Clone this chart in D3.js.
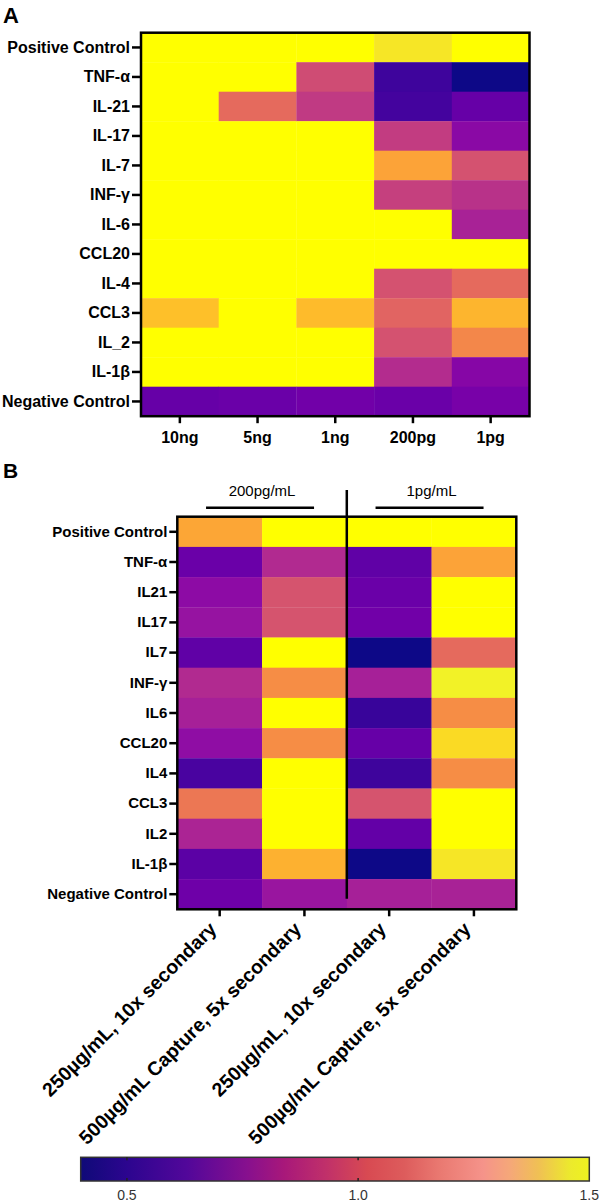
<!DOCTYPE html>
<html>
<head>
<meta charset="utf-8">
<script src="https://cdn.jsdelivr.net/npm/d3@7"></script>
<style>
	body { margin: 0; background: #fff; }
	svg { display: block; }
	text { font-family: "Liberation Sans", Arial, sans-serif; }
	.axis text { font-weight: bold; fill: #000; }
	.axis line { stroke: #000; stroke-width: 2.5px; }
</style>
</head>
<body>
<div id="chart"></div>
<script>

// panel A data, values above 1.5 are drawn as the over-range yellow
var rowsA = ["Positive Control", "TNF-α", "IL-21", "IL-17", "IL-7", "INF-γ", "IL-6",
	"CCL20", "IL-4", "CCL3", "IL_2", "IL-1β", "Negative Control"];
var colsA = ["10ng", "5ng", "1ng", "200pg", "1pg"];
var valuesA = [
	[1.6, 1.6, 1.6, 1.45, 1.6],
	[1.6, 1.6, 0.97, 0.50, 0.40],
	[1.6, 1.08, 0.90, 0.52, 0.61],
	[1.6, 1.6, 1.6, 0.91, 0.71],
	[1.6, 1.6, 1.6, 1.27, 0.99],
	[1.6, 1.6, 1.6, 0.92, 0.87],
	[1.6, 1.6, 1.6, 1.6, 0.81],
	[1.6, 1.6, 1.6, 1.6, 1.6],
	[1.6, 1.6, 1.6, 0.99, 1.08],
	[1.35, 1.6, 1.34, 1.06, 1.32],
	[1.6, 1.6, 1.6, 0.99, 1.18],
	[1.6, 1.6, 1.6, 0.85, 0.70],
	[0.61, 0.62, 0.64, 0.62, 0.66]
];

// panel B data
var rowsB = ["Positive Control", "TNF-α", "IL21", "IL17", "IL7", "INF-γ", "IL6",
	"CCL20", "IL4", "CCL3", "IL2", "IL-1β", "Negative Control"];
var colsB = ["250µg/mL, 10x secondary", "500µg/mL Capture, 5x secondary",
	"250µg/mL, 10x secondary", "500µg/mL Capture, 5x secondary"];
var groupsB = ["200pg/mL", "1pg/mL"];
var valuesB = [
	[1.28, 1.6, 1.6, 1.6],
	[0.62, 0.84, 0.59, 1.27],
	[0.72, 1.00, 0.62, 1.6],
	[0.75, 1.00, 0.64, 1.6],
	[0.59, 1.6, 0.40, 1.08],
	[0.84, 1.20, 0.80, 1.48],
	[0.80, 1.6, 0.49, 1.20],
	[0.73, 1.20, 0.61, 1.42],
	[0.53, 1.6, 0.50, 1.20],
	[1.13, 1.6, 1.00, 1.6],
	[0.82, 1.6, 0.60, 1.6],
	[0.58, 1.31, 0.40, 1.45],
	[0.63, 0.76, 0.80, 0.81]
];

// colour bar
var cbDomain = [0.4, 1.5];
var cbTicks = [0.5, 1.0, 1.5];
var cbStops = [
	[0.40, "#0f0a78"], [0.50, "#2c058f"], [0.63, "#52079a"], [0.76, "#87108e"],
	[0.84, "#a8187a"], [0.93, "#c0306a"], [1.02, "#d84a52"], [1.10, "#dd5c5c"],
	[1.18, "#ea7a72"], [1.27, "#f5938a"], [1.33, "#f5a878"], [1.39, "#f0c054"],
	[1.46, "#ecea2c"], [1.50, "#eef21f"]
];
var overColor = "#ffff00";

var width = 600,
	height = 1202;

var svg = d3.select("#chart").append("svg")
	.attr("width", width)
	.attr("height", height);

// cell colour: plasma over the bar range, yellow above it
function cellColor(v){

	if (v > cbDomain[1]) return overColor;
	return d3.interpolatePlasma((v - cbDomain[0]) / (cbDomain[1] - cbDomain[0]));
}

// flattens a matrix into cells
function toCells(values){

	var cells = [];
	values.forEach(function(row, i){
		row.forEach(function(v, j){
			cells.push({row: i, col: j, value: v});
		});
	});
	return cells;
}

// draws one heatmap, returns the scales
function heatmap(box, rows, cols, values, fontSize){

	var x = d3.scaleBand().domain(d3.range(cols.length)).range([box.left, box.left + box.width]),
		y = d3.scaleBand().domain(d3.range(rows.length)).range([box.top, box.top + box.height]);

	var g = svg.append("g");

	g.selectAll(".cell")
		.data(toCells(values))
		.enter()
		.append("rect")
		.attr("class", "cell")
		.attr("x", function(d){ return x(d.col); })
		.attr("y", function(d){ return y(d.row); })
		.attr("width", x.bandwidth() + 0.3)
		.attr("height", y.bandwidth() + 0.3)
		.style("fill", function(d){ return cellColor(d.value); });

	// y axis with names
	var ya = g.append("g")
		.attr("class", "axis")
		.attr("transform", "translate(" + box.left + ",0)")
		.call(d3.axisLeft(y).tickSize(box.tick).tickPadding(2)
			.tickFormat(function(i){ return rows[i]; }));
	ya.select(".domain").remove();
	ya.selectAll("text").style("font-size", fontSize + "px");

	// border
	g.append("rect")
		.attr("x", box.left)
		.attr("y", box.top)
		.attr("width", box.width)
		.attr("height", box.height)
		.style("fill", "none")
		.style("stroke", "#000")
		.style("stroke-width", "2.5px");

	return {x: x, y: y, g: g};
}

// panel A
svg.append("text")
	.attr("x", 3)
	.attr("y", 23)
	.style("font-size", "22px")
	.style("font-weight", "bold")
	.text("A");

var boxA = {left: 141, top: 32.7, width: 388.5, height: 383.5, tick: 9};
var hmA = heatmap(boxA, rowsA, colsA, valuesA, 16);

var xaA = hmA.g.append("g")
	.attr("class", "axis")
	.attr("transform", "translate(0," + (boxA.top + boxA.height) + ")")
	.call(d3.axisBottom(hmA.x).tickSize(7).tickPadding(8)
		.tickFormat(function(i){ return colsA[i]; }));
xaA.select(".domain").remove();
xaA.selectAll("text").style("font-size", "16px");

// panel B
svg.append("text")
	.attr("x", 3)
	.attr("y", 478)
	.style("font-size", "21px")
	.style("font-weight", "bold")
	.text("B");

var boxB = {left: 177.3, top: 516.7, width: 339, height: 392.6, tick: 8};
var hmB = heatmap(boxB, rowsB, colsB, valuesB, 15);

var xaB = hmB.g.append("g")
	.attr("class", "axis")
	.attr("transform", "translate(0," + (boxB.top + boxB.height) + ")")
	.call(d3.axisBottom(hmB.x).tickSize(7).tickFormat(""));
xaB.select(".domain").remove();

// rotated column names
hmB.g.selectAll(".collabel")
	.data(colsB)
	.enter()
	.append("text")
	.attr("class", "collabel")
	.attr("transform", function(d, i){
		var cx = hmB.x(i) + hmB.x.bandwidth() / 2 - 2;
		return "translate(" + cx + "," + (boxB.top + boxB.height + 21) + ") rotate(-45)";
	})
	.attr("text-anchor", "end")
	.style("font-size", "19.5px")
	.style("font-weight", "bold")
	.text(function(d){ return d; });

// group headers with underline and divider
var groupX = d3.scaleBand().domain(d3.range(groupsB.length)).range([boxB.left, boxB.left + boxB.width]);

var grp = svg.selectAll(".grp")
	.data(groupsB)
	.enter()
	.append("g")
	.attr("class", "grp");

grp.append("text")
	.attr("x", function(d, i){ return groupX(i) + groupX.bandwidth() / 2; })
	.attr("y", 496)
	.attr("text-anchor", "middle")
	.style("font-size", "15px")
	.text(function(d){ return d; });

grp.append("line")
	.attr("x1", function(d, i){ return groupX(i) + groupX.bandwidth() / 2 - 56; })
	.attr("x2", function(d, i){ return groupX(i) + groupX.bandwidth() / 2 + 52; })
	.attr("y1", 507.7)
	.attr("y2", 507.7)
	.style("stroke", "#000")
	.style("stroke-width", "2.5px");

svg.append("line")
	.attr("x1", groupX(1))
	.attr("x2", groupX(1))
	.attr("y1", 490)
	.attr("y2", 898.7)
	.style("stroke", "#000")
	.style("stroke-width", "2.5px");

// colour bar
var cbX = d3.scaleLinear().domain(cbDomain).range([80.7, 589.3]),
	cbTop = 1157.3,
	cbH = 23.7;

var grad = svg.append("defs").append("linearGradient")
	.attr("id", "cbgrad")
	.attr("x1", "0%")
	.attr("x2", "100%");

grad.selectAll("stop")
	.data(cbStops)
	.enter()
	.append("stop")
	.attr("offset", function(d){ return ((cbX(d[0]) - cbX.range()[0]) / (cbX.range()[1] - cbX.range()[0]) * 100) + "%"; })
	.attr("stop-color", function(d){ return d[1]; });

svg.append("rect")
	.attr("x", cbX.range()[0])
	.attr("y", cbTop)
	.attr("width", cbX.range()[1] - cbX.range()[0])
	.attr("height", cbH)
	.style("fill", "url(#cbgrad)")
	.style("stroke", "#333")
	.style("stroke-width", "1.5px");

// little inner tick marks on the bar
var cbt = svg.selectAll(".cbtick")
	.data(cbTicks.slice(0, 2))
	.enter()
	.append("g")
	.attr("class", "cbtick");

cbt.append("line")
	.attr("x1", function(d){ return cbX(d); })
	.attr("x2", function(d){ return cbX(d); })
	.attr("y1", cbTop)
	.attr("y2", cbTop + 3)
	.style("stroke", "#222")
	.style("stroke-width", "1.5px");

cbt.append("line")
	.attr("x1", function(d){ return cbX(d); })
	.attr("x2", function(d){ return cbX(d); })
	.attr("y1", cbTop + cbH - 3)
	.attr("y2", cbTop + cbH)
	.style("stroke", "#222")
	.style("stroke-width", "1.5px");

svg.selectAll(".cblabel")
	.data(cbTicks)
	.enter()
	.append("text")
	.attr("class", "cblabel")
	.attr("x", function(d){ return cbX(d); })
	.attr("y", 1200)
	.attr("text-anchor", "middle")
	.style("font-size", "14px")
	.style("fill", "#333")
	.text(function(d){ return d3.format(".1f")(d); });

</script>
</body>
</html>
